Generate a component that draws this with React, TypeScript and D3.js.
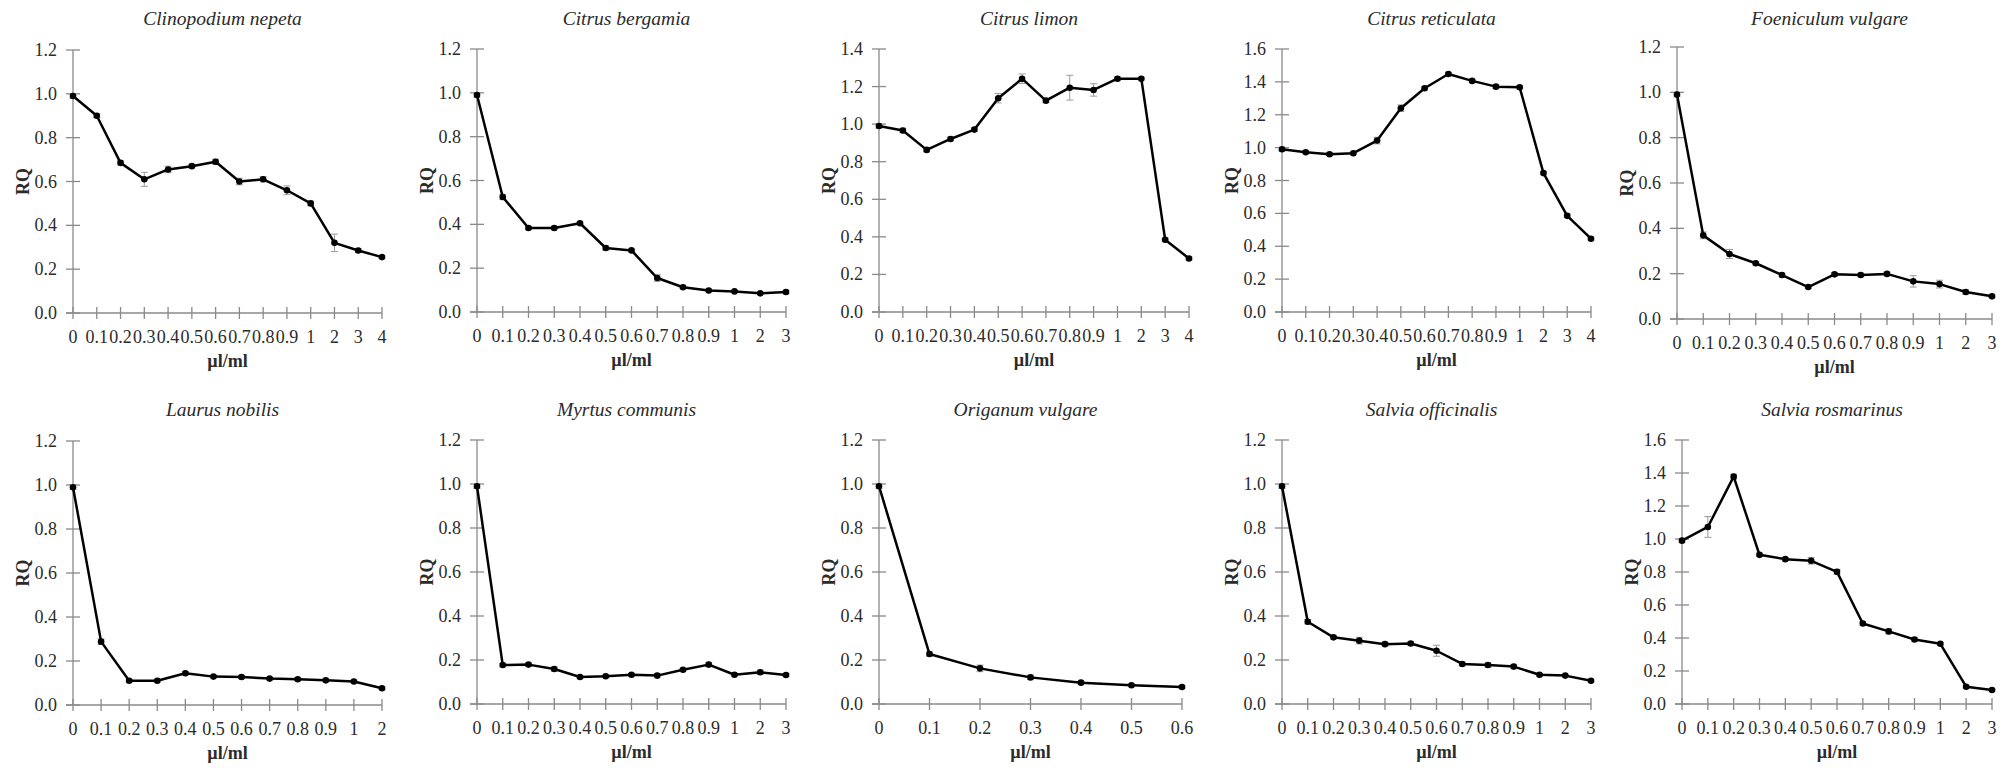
import React from 'react';
import { scaleLinear, scalePoint, line, range } from 'd3';

// dose categories (µl/ml)
const dosesTo4 = ['0', '0.1', '0.2', '0.3', '0.4', '0.5', '0.6', '0.7', '0.8', '0.9', '1', '2', '3', '4'];
const dosesTo3 = ['0', '0.1', '0.2', '0.3', '0.4', '0.5', '0.6', '0.7', '0.8', '0.9', '1', '2', '3'];
const dosesTo2 = ['0', '0.1', '0.2', '0.3', '0.4', '0.5', '0.6', '0.7', '0.8', '0.9', '1', '2'];
const dosesTo06 = ['0', '0.1', '0.2', '0.3', '0.4', '0.5', '0.6'];

// relative quantification values and their error
const clinopodiumRQ = [0.99, 0.9, 0.685, 0.61, 0.655, 0.67, 0.69, 0.6, 0.61, 0.56, 0.5, 0.32, 0.285, 0.255];
const clinopodiumErr = [0.01, 0.008, 0.01, 0.032, 0.015, 0.008, 0.012, 0.015, 0.012, 0.02, 0.01, 0.04, 0.008, 0.006];

const bergamiaRQ = [0.99, 0.525, 0.383, 0.383, 0.405, 0.292, 0.281, 0.155, 0.113, 0.098, 0.094, 0.085, 0.091];
const bergamiaErr = [0.01, 0.012, 0.008, 0.008, 0.006, 0.01, 0.006, 0.015, 0.006, 0.005, 0.005, 0.005, 0.008];

const limonRQ = [0.99, 0.966, 0.863, 0.921, 0.971, 1.138, 1.242, 1.125, 1.194, 1.182, 1.242, 1.242, 0.385, 0.285];
const limonErr = [0.012, 0.012, 0.01, 0.01, 0.01, 0.025, 0.025, 0.01, 0.066, 0.033, 0.01, 0.006, 0.008, 0.008];

const reticulataRQ = [0.99, 0.972, 0.96, 0.966, 1.043, 1.24, 1.361, 1.448, 1.406, 1.371, 1.367, 0.845, 0.585, 0.446];
const reticulataErr = [0.012, 0.008, 0.008, 0.008, 0.02, 0.02, 0.01, 0.01, 0.01, 0.012, 0.01, 0.01, 0.01, 0.008];

const foeniculumRQ = [0.99, 0.369, 0.287, 0.246, 0.194, 0.141, 0.197, 0.194, 0.199, 0.166, 0.154, 0.119, 0.1];
const foeniculumErr = [0.01, 0.015, 0.02, 0.008, 0.008, 0.006, 0.008, 0.008, 0.008, 0.025, 0.017, 0.01, 0.006];

const laurusRQ = [0.99, 0.288, 0.11, 0.11, 0.144, 0.129, 0.127, 0.12, 0.117, 0.112, 0.107, 0.076];
const laurusErr = [0.01, 0.012, 0.006, 0.006, 0.008, 0.006, 0.008, 0.006, 0.006, 0.006, 0.006, 0.006];

const myrtusRQ = [0.99, 0.177, 0.179, 0.159, 0.123, 0.126, 0.133, 0.129, 0.156, 0.179, 0.133, 0.144, 0.132];
const myrtusErr = [0.01, 0.008, 0.008, 0.01, 0.006, 0.006, 0.006, 0.01, 0.006, 0.01, 0.006, 0.01, 0.006];

const origanumRQ = [0.99, 0.227, 0.162, 0.121, 0.097, 0.085, 0.077];
const origanumErr = [0.01, 0.01, 0.015, 0.01, 0.006, 0.006, 0.006];

const officinalisRQ = [0.99, 0.374, 0.303, 0.288, 0.272, 0.275, 0.242, 0.182, 0.177, 0.17, 0.133, 0.129, 0.106];
const officinalisErr = [0.01, 0.01, 0.008, 0.015, 0.008, 0.008, 0.025, 0.008, 0.01, 0.01, 0.006, 0.006, 0.006];

const rosmarinusRQ = [0.99, 1.073, 1.378, 0.904, 0.878, 0.868, 0.801, 0.488, 0.44, 0.391, 0.365, 0.105, 0.085];
const rosmarinusErr = [0.01, 0.063, 0.015, 0.01, 0.01, 0.02, 0.015, 0.01, 0.015, 0.01, 0.008, 0.008, 0.006];

const panels = [
  { title: 'Clinopodium nepeta', doses: dosesTo4, rq: clinopodiumRQ, err: clinopodiumErr, yMax: 1.2 },
  { title: 'Citrus bergamia', doses: dosesTo3, rq: bergamiaRQ, err: bergamiaErr, yMax: 1.2 },
  { title: 'Citrus limon', doses: dosesTo4, rq: limonRQ, err: limonErr, yMax: 1.4 },
  { title: 'Citrus reticulata', doses: dosesTo4, rq: reticulataRQ, err: reticulataErr, yMax: 1.6 },
  { title: 'Foeniculum vulgare', doses: dosesTo3, rq: foeniculumRQ, err: foeniculumErr, yMax: 1.2 },
  { title: 'Laurus nobilis', doses: dosesTo2, rq: laurusRQ, err: laurusErr, yMax: 1.2 },
  { title: 'Myrtus communis', doses: dosesTo3, rq: myrtusRQ, err: myrtusErr, yMax: 1.2 },
  { title: 'Origanum vulgare', doses: dosesTo06, rq: origanumRQ, err: origanumErr, yMax: 1.2 },
  { title: 'Salvia officinalis', doses: dosesTo3, rq: officinalisRQ, err: officinalisErr, yMax: 1.2 },
  { title: 'Salvia rosmarinus', doses: dosesTo3, rq: rosmarinusRQ, err: rosmarinusErr, yMax: 1.6 },
];

// plot frames: left axis x, right end x, zero y, top tick y, title baseline
const frames = [
  { x0: 73, x1: 382, y0: 313, y1: 50, ty: 25 },
  { x0: 477, x1: 786, y0: 312, y1: 49, ty: 25 },
  { x0: 879, x1: 1189, y0: 312, y1: 49, ty: 25 },
  { x0: 1282, x1: 1591, y0: 312, y1: 49, ty: 25 },
  { x0: 1677, x1: 1992, y0: 319, y1: 47, ty: 25 },
  { x0: 73, x1: 382, y0: 705, y1: 441, ty: 416 },
  { x0: 477, x1: 786, y0: 704, y1: 440, ty: 416 },
  { x0: 879, x1: 1182, y0: 704, y1: 440, ty: 416 },
  { x0: 1282, x1: 1591, y0: 704, y1: 440, ty: 416 },
  { x0: 1682, x1: 1992, y0: 704, y1: 440, ty: 416 },
];

const font = '"Liberation Serif", "Times New Roman", serif';
const axisColor = '#8a8a8a';
const textColor = '#2b2b2b';

const Panel = ({ p, f }: any) => {
  const x = scalePoint<string>().domain(p.doses).range([f.x0, f.x1]);
  const y = scaleLinear().domain([0, p.yMax]).range([f.y0, f.y1]);
  const yTicks = range(0, p.yMax + 0.001, 0.2);
  const pts = p.doses.map((d: string, i: number) => ({ d, v: p.rq[i], e: p.err[i] }));
  const path = line<any>().x((d) => x(d.d) as number).y((d) => y(d.v))(pts) as string;
  const cx = (f.x0 + f.x1) / 2;
  return (
    <g>
      <text x={cx - 5} y={f.ty} textAnchor="middle" fontStyle="italic" fontSize={19.5} fill={textColor}>{p.title}</text>
      {/* y axis */}
      <line x1={f.x0} x2={f.x0} y1={y(p.yMax)} y2={y(0)} stroke={axisColor} strokeWidth={1.3} />
      {yTicks.map((t: number) => (
        <g key={'y' + t}>
          <line x1={f.x0 - 7} x2={f.x0 + 7} y1={y(t)} y2={y(t)} stroke={axisColor} strokeWidth={1.3} />
          <text x={f.x0 - 16} y={y(t) + 6} textAnchor="end" fontSize={18} fill={textColor}>{t.toFixed(1)}</text>
        </g>
      ))}
      {/* x axis */}
      <line x1={f.x0 - 7} x2={f.x1} y1={y(0)} y2={y(0)} stroke={axisColor} strokeWidth={1.3} />
      {p.doses.map((d: string) => (
        <g key={'x' + d}>
          <line x1={x(d)} x2={x(d)} y1={y(0) - 6} y2={y(0) + 6} stroke={axisColor} strokeWidth={1.3} />
          <text x={x(d)} y={y(0) + 30} textAnchor="middle" fontSize={18} fill={textColor}>{d}</text>
        </g>
      ))}
      <text x={cx} y={y(0) + 54} textAnchor="middle" fontWeight="bold" fontSize={18} fill={textColor}>µl/ml</text>
      <text transform={`translate(${f.x0 - 44},${(y(0) + y(p.yMax)) / 2}) rotate(-90)`} textAnchor="middle" fontWeight="bold" fontSize={18} fill={textColor}>RQ</text>
      {/* error bars */}
      {pts.map((q: any) => (
        <g key={'e' + q.d} stroke="#9a9a9a" strokeWidth={1}>
          <line x1={x(q.d)} x2={x(q.d)} y1={y(q.v - q.e)} y2={y(q.v + q.e)} />
          <line x1={(x(q.d) as number) - 3.5} x2={(x(q.d) as number) + 3.5} y1={y(q.v - q.e)} y2={y(q.v - q.e)} />
          <line x1={(x(q.d) as number) - 3.5} x2={(x(q.d) as number) + 3.5} y1={y(q.v + q.e)} y2={y(q.v + q.e)} />
        </g>
      ))}
      <path d={path} fill="none" stroke="#000" strokeWidth={2.5} strokeLinejoin="round" />
      {pts.map((q: any) => (
        <circle key={'c' + q.d} cx={x(q.d)} cy={y(q.v)} r={3.3} fill="#000" />
      ))}
    </g>
  );
};

export default function App() {
  return (
    <svg width={2016} height={768} style={{ position: 'absolute', left: 0, top: 0, background: '#fff' }} fontFamily={font}>
      <rect width={2016} height={768} fill="#fff" />
      {panels.map((p, i) => (
        <Panel key={p.title} p={p} f={frames[i]} />
      ))}
    </svg>
  );
}
